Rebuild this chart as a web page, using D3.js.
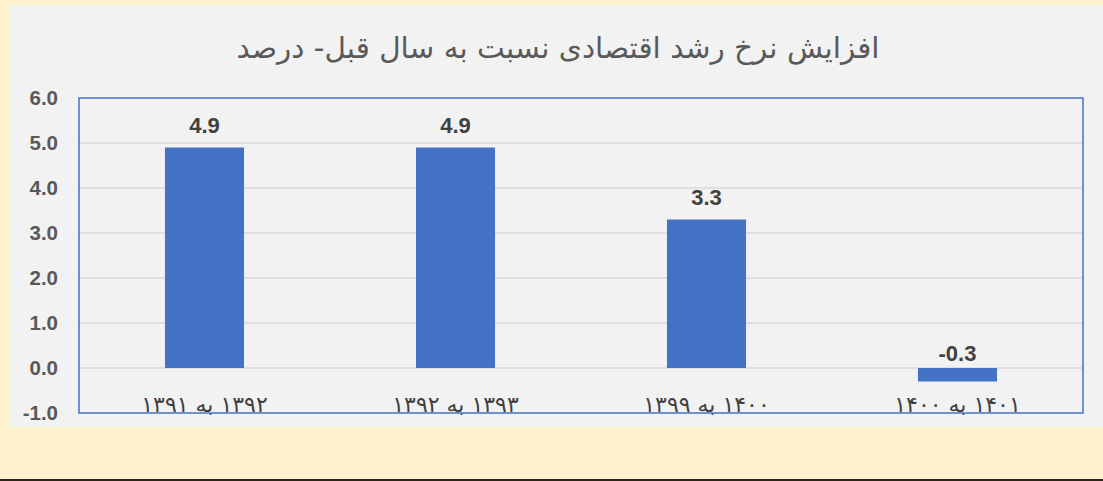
<!DOCTYPE html>
<html><head><meta charset="utf-8">
<script src="https://cdn.jsdelivr.net/npm/d3@7"></script>
<style>
html,body{margin:0;padding:0;background:#FFF2CC;}
svg{display:block;}
</style></head>
<body>
<svg id="chart" width="1103" height="481"></svg>
<script>
const title = "افزایش نرخ رشد اقتصادی نسبت به سال قبل- درصد";
const categories = ["۱۳۹۲ به ۱۳۹۱", "۱۳۹۳ به ۱۳۹۲", "۱۴۰۰ به ۱۳۹۹", "۱۴۰۱ به ۱۴۰۰"];
const values = [4.9, 4.9, 3.3, -0.3];
const yTicks = [-1, 0, 1, 2, 3, 4, 5, 6];

const svg = d3.select("#chart");
const W = 1103, H = 481;
const plot = {left: 79, right: 1083, top: 98, bottom: 413};
const fmt = d3.formatLocale({decimal: ".", thousands: ",", grouping: [3], currency: ["", ""], minus: "-"}).format(".1f");

// backgrounds
svg.append("rect").attr("x",0).attr("y",0).attr("width",W).attr("height",H).attr("fill","#FFF2CC");
svg.append("rect").attr("x",10).attr("y",5).attr("width",W-10).attr("height",422).attr("fill","#F2F2F2");
svg.append("rect").attr("x",0).attr("y",479).attr("width",W).attr("height",2).attr("fill","#2b2618");

const x = d3.scaleBand().domain(categories).range([plot.left, plot.right])
  .paddingInner(0.685).paddingOuter(0.3425);
const y = d3.scaleLinear().domain([-1, 6]).range([plot.bottom, plot.top]);

// gridlines
svg.append("g").selectAll("line").data(yTicks.filter(d => d > -1 && d < 6)).join("line")
  .attr("x1", plot.left).attr("x2", plot.right)
  .attr("y1", d => y(d)).attr("y2", d => y(d))
  .attr("stroke", "#D9D9D9").attr("stroke-width", 1.5);

// y axis labels
const yAxis = d3.axisLeft(y).tickValues(yTicks).tickFormat(fmt).tickSize(0).tickPadding(21);
const gy = svg.append("g").attr("transform", `translate(${plot.left},0)`).call(yAxis);
gy.select(".domain").remove();
gy.selectAll("text").attr("fill", "#595959").attr("font-family", "Liberation Sans, Arial, sans-serif")
  .attr("font-size", 20.5).attr("font-weight", "bold");

// bars
svg.append("g").selectAll("rect").data(values).join("rect")
  .attr("x", (d, i) => x(categories[i]))
  .attr("width", x.bandwidth())
  .attr("y", d => y(Math.max(0, d)))
  .attr("height", d => Math.abs(y(d) - y(0)))
  .attr("fill", "#4472C4");

// value labels
svg.append("g").selectAll("text").data(values).join("text")
  .attr("x", (d, i) => x(categories[i]) + x.bandwidth() / 2)
  .attr("y", d => d >= 0 ? y(d) - 15 : y(0) - 7)
  .attr("text-anchor", "middle")
  .attr("fill", "#404040")
  .attr("font-family", "Liberation Sans, Arial, sans-serif")
  .attr("font-size", 22).attr("font-weight", "bold")
  .text(d => fmt(d));

// plot frame
svg.append("rect").attr("x", plot.left).attr("y", plot.top)
  .attr("width", plot.right - plot.left).attr("height", plot.bottom - plot.top)
  .attr("fill", "none").attr("stroke", "#4472C4").attr("stroke-width", 1.5);

// category labels
const xAxis = d3.axisBottom(x).tickSize(0).tickPadding(0);
const gx = svg.append("g").attr("transform", `translate(0,${y(0)})`).call(xAxis);
gx.select(".domain").remove();
gx.selectAll("text")
  .attr("y", 44).attr("dy", 0)
  .attr("direction", "rtl")
  .attr("fill", "#404040").attr("font-family", "DejaVu Sans, sans-serif")
  .attr("font-size", 22).attr("text-anchor", "middle");

// title
svg.append("text").attr("x", 558).attr("y", 58).attr("text-anchor", "middle")
  .attr("direction", "rtl")
  .attr("fill", "#595959").attr("font-family", "DejaVu Sans, sans-serif")
  .attr("font-size", 29.5)
  .text(title);
</script>
</body></html>
